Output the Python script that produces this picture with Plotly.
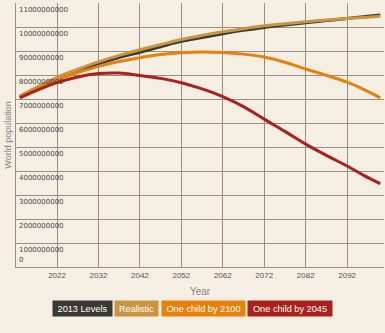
import plotly.graph_objects as go

# Projection years and world population (people) per scenario
years = [2013, 2017, 2022, 2027, 2032, 2037, 2042, 2047, 2052, 2057, 2062, 2067, 2072, 2077, 2082, 2087, 2092, 2096, 2100]

levels_2013 = [7.10e9, 7.45e9, 7.85e9, 8.17e9, 8.47e9, 8.73e9, 8.95e9, 9.18e9, 9.40e9, 9.56e9, 9.72e9, 9.86e9, 9.98e9, 10.08e9, 10.18e9, 10.27e9, 10.35e9, 10.43e9, 10.50e9]
realistic = [7.10e9, 7.48e9, 7.90e9, 8.24e9, 8.55e9, 8.82e9, 9.05e9, 9.27e9, 9.48e9, 9.65e9, 9.80e9, 9.93e9, 10.05e9, 10.14e9, 10.22e9, 10.29e9, 10.35e9, 10.40e9, 10.45e9]
one_child_2100 = [7.10e9, 7.42e9, 7.80e9, 8.10e9, 8.36e9, 8.56e9, 8.72e9, 8.85e9, 8.93e9, 8.96e9, 8.94e9, 8.87e9, 8.75e9, 8.53e9, 8.25e9, 7.99e9, 7.70e9, 7.40e9, 7.05e9]
one_child_2045 = [7.05e9, 7.35e9, 7.68e9, 7.92e9, 8.06e9, 8.08e9, 7.98e9, 7.86e9, 7.68e9, 7.42e9, 7.10e9, 6.68e9, 6.16e9, 5.65e9, 5.12e9, 4.65e9, 4.21e9, 3.82e9, 3.47e9]

series_names = ["2013 Levels", "Realistic", "One child by 2100", "One child by 2045"]
series_values = [levels_2013, realistic, one_child_2100, one_child_2045]
series_colors = ["#3b3833", "#c9963f", "#e8800c", "#a8211b"]

x_ticks = [2022, 2032, 2042, 2052, 2062, 2072, 2082, 2092]
y_ticks = [i * 1e9 for i in range(0, 12)]
y_tick_text = [str(int(v)) for v in y_ticks]

bg = "#f4eee3"
grid = "#978f85"
label_font = dict(size=7, color="#444", family="DejaVu Sans, Verdana, sans-serif")

fig = go.Figure()
for name, vals, col in zip(series_names, series_values, series_colors):
    fig.add_trace(go.Scatter(
        x=years, y=vals, name=name, mode="lines",
        line=dict(color=col, width=3, shape="spline", smoothing=1.0),
        hoverinfo="skip",
    ))

fig.update_layout(
    width=385, height=333,
    margin=dict(l=16, r=1, t=3, b=66),
    paper_bgcolor=bg, plot_bgcolor=bg,
    showlegend=False,
    font=dict(family="Liberation Sans, Arial, sans-serif", color="#555"),
)

fig.update_xaxes(
    range=[2012.1, 2100.9],
    tickvals=x_ticks,
    showgrid=True, gridcolor=grid, gridwidth=1,
    showline=True, linecolor=grid, linewidth=1,
    zeroline=False, ticks="",
    tickfont=dict(size=8, color="#555", family="Liberation Sans, Arial, sans-serif"),
    title=dict(text="Year", standoff=9,
               font=dict(size=10, color="#8a857e", family="Liberation Sans, Arial, sans-serif")),
)

fig.update_yaxes(
    range=[0, 11e9],
    tickvals=y_ticks,
    showticklabels=False,
    showgrid=True, gridcolor=grid, gridwidth=1,
    showline=True, linecolor=grid, linewidth=1,
    zeroline=False, ticks="",
    title=dict(text="World population", standoff=1,
               font=dict(size=9, color="#8a857e", family="Liberation Sans, Arial, sans-serif")),
)

# y tick labels sit inside the plot, just under each gridline (zero just above the baseline)
for v, txt in zip(y_ticks, y_tick_text):
    fig.add_annotation(
        x=0, xref="paper", xanchor="left", xshift=1,
        y=v, yref="y",
        yanchor="bottom" if v == 0 else "top",
        yshift=1 if v == 0 else -1,
        text=txt, showarrow=False, font=label_font,
    )

# coloured legend chips below the plot
chip_centers = [82.5, 136.5, 203.5, 290.0]
chip_widths = [59, 43, 83, 84]
for name, col, cx, w in zip(series_names, series_colors, chip_centers, chip_widths):
    fig.add_annotation(
        x=(cx - 16) / 368, xref="paper", xanchor="center",
        y=(267 - 308.5) / 264, yref="paper", yanchor="middle",
        text=name, showarrow=False,
        width=w, height=15, bgcolor=col, borderpad=0,
        font=dict(size=9.2, color="white", family="Liberation Sans, Arial, sans-serif"),
    )

fig.write_html("out.html")
